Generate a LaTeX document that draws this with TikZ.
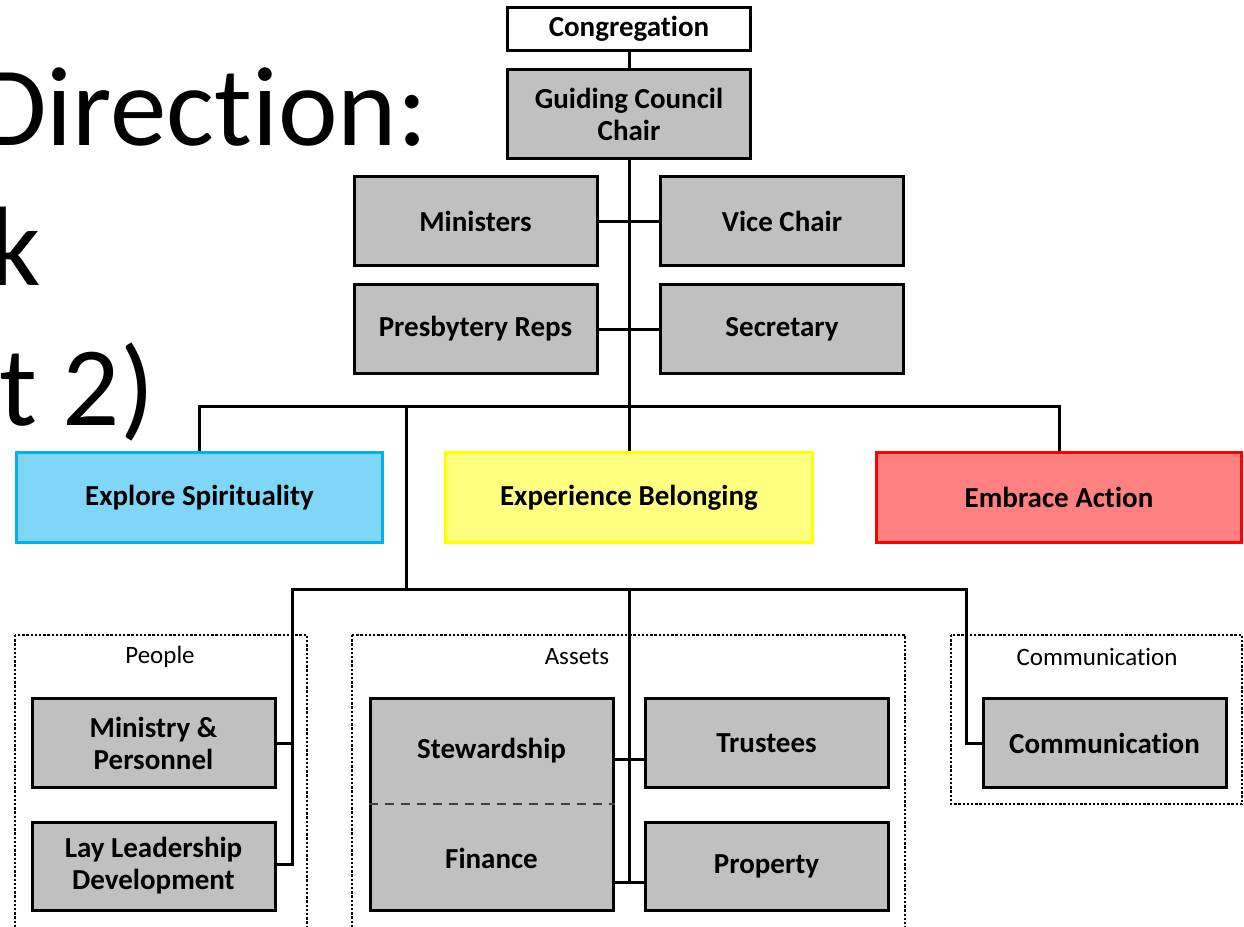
\documentclass[tikz,border=0pt]{standalone}
\usepackage{fontspec}
\setmainfont{Carlito}[RawFeature=-liga]
\definecolor{boxgray}{RGB}{192,192,192}
\definecolor{expfill}{RGB}{128,214,247}
\definecolor{expline}{RGB}{0,176,240}
\definecolor{belfill}{RGB}{255,255,128}
\definecolor{belline}{RGB}{255,255,0}
\definecolor{actfill}{RGB}{255,128,128}
\definecolor{actline}{RGB}{255,0,0}
\tikzset{
	orgbox/.style={draw, line width=3pt, fill=boxgray, minimum width=243, minimum height=89, align=center, inner sep=0pt, font=\fontsize{29}{32}\selectfont\bfseries},
	goalbox/.style={draw, line width=3pt, minimum height=90, inner sep=0pt, font=\fontsize{29}{32}\selectfont\bfseries},
	groupframe/.style={line width=2.6pt, dash pattern=on 2.4pt off 1.8pt},
	grouplabel/.style={font=\fontsize{25}{28}\selectfont},
	link/.style={line width=3pt}
}
\begin{document}
\begin{tikzpicture}[x=1pt, y=-1pt]
		\clip (0,0) rectangle (1244,926);
		\fill[white] (0,0) rectangle (1244,926);

		\node[anchor=base east, font=\fontsize{113}{113}\selectfont] (ttla) at (431,145) {Direction:};
		\node[anchor=base east, font=\fontsize{113}{113}\selectfont] (ttlb) at (44,285) {k};
		\node[anchor=base east, font=\fontsize{113}{113}\selectfont] (ttlc) at (158,425) {t 2)};

		\node[orgbox, fill=white, minimum height=43] (cong) at (629,29) {Congregation};
		\node[orgbox] (chair) at (629,114) {Guiding Council\\Chair};
		\node[orgbox] (mins) at (475.5,221) {Ministers};
		\node[orgbox] (vice) at (782,221) {Vice Chair};
		\node[orgbox] (pres) at (475.5,329) {Presbytery Reps};
		\node[orgbox] (secr) at (782,329) {Secretary};

		\node[goalbox, draw=expline, fill=expfill, minimum width=366] (expl) at (199.5,497.5) {Explore Spirituality};
		\node[goalbox, draw=belline, fill=belfill, minimum width=367] (expe) at (629,497.5) {Experience Belonging};
		\node[goalbox, draw=actline, fill=actfill, minimum width=365] (embr) at (1059,497.5) {Embrace Action};

		\draw[groupframe] (15,635) rectangle (307,940);
		\draw[groupframe] (352,635) rectangle (905,940);
		\draw[groupframe] (951,635) rectangle (1242,804);
		\node[grouplabel] (lpeop) at (160,657) {People};
		\node[grouplabel] (lasse) at (577,657) {Assets};
		\node[grouplabel] (lcomm) at (1097,657) {Communication};

		\node[orgbox] (minp) at (153.5,743) {Ministry \&\\Personnel};
		\node[orgbox, minimum height=88] (layl) at (153.5,866) {Lay Leadership\\Development};
		\node[orgbox, minimum height=212] (stfi) at (491.5,804) {};
		\node[font=\fontsize{29}{32}\selectfont\bfseries] (stew) at (491.5,751) {Stewardship};
		\node[font=\fontsize{29}{32}\selectfont\bfseries] (fina) at (491.5,858) {Finance};
		\draw[line width=2.4pt, black!75, dash pattern=on 9pt off 7pt] (stfi.west |- 0,804) -- (stfi.east |- 0,804);
		\node[orgbox] (trus) at (766.5,743) {Trustees};
		\node[orgbox, minimum height=88] (prop) at (766.5,866) {Property};
		\node[orgbox] (comm) at (1104.5,743) {Communication};

		\coordinate (bara) at (629,406);
		\coordinate (jtop) at (406,406);
		\coordinate (jbot) at (406,589);
		\coordinate (pple) at (292,589);
		\coordinate (asst) at (629,589);
		\coordinate (cmmn) at (966,589);

		\draw[link] (cong) -- (chair);
		\draw[link] (chair) -- (expe);
		\draw[link] (mins) -- (vice);
		\draw[link] (pres) -- (secr);
		\draw[link] (expl) |- (bara) -| (embr);
		\draw[link] (jtop) -- (jbot);
		\draw[link] (layl.east |- 0,864) -| (pple) -- (cmmn) |- (comm.west);
		\draw[link] (minp.east) -- (minp.east -| pple);
		\draw[link] (asst) -- (asst |- 0,882);
		\draw[link] (stfi.east |- 0,759) -- (trus.west |- 0,759);
		\draw[link] (stfi.east |- 0,882) -- (prop.west |- 0,882);
	\end{tikzpicture}
\end{document}
